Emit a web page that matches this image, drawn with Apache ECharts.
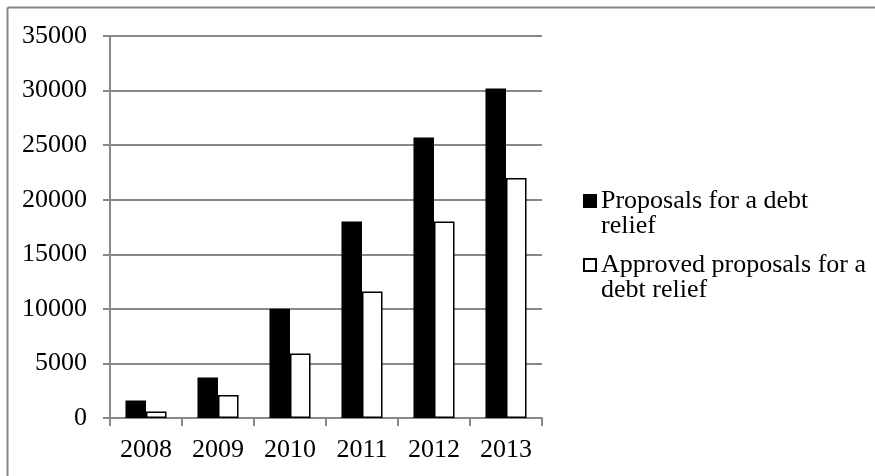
<!DOCTYPE html>
<html lang="en">
<head>
    <meta charset="UTF-8"/>
    <script src="https://cdn.jsdelivr.net/npm/echarts@6/dist/echarts.min.js"></script>
    <title>Debt relief proposals</title>
    <style>
        body { margin: 0; background: #fff; }
    </style>
</head>
<body>
<div id="main" style="width: 875px;height:476px;"></div>
<script type="text/javascript">
    var years = ['2008', '2009', '2010', '2011', '2012', '2013'];
    var proposals = [1600, 3700, 10000, 18000, 25700, 30200];
    var approved = [600, 2100, 5900, 11600, 18000, 22000];
    var seriesNames = ['Proposals for a debt relief', 'Approved proposals for a debt relief'];
    // leading blank line keeps the icon level with the first text line
    var legendLabels = ['\nProposals for a debt\nrelief', '\nApproved proposals for a\ndebt relief'];

    var myChart = echarts.init(document.getElementById('main'));
    var font = 'Liberation Serif';
    var gray = '#888888';

    option = {
        animation: false,
        backgroundColor: '#fff',
        textStyle: { fontFamily: font, color: '#000' },
        grid: { left: 110, right: 333, top: 36, bottom: 58 },
        legend: {
            orient: 'vertical',
            left: 578,
            top: 158,
            itemWidth: 12,
            itemHeight: 12,
            itemGap: -12,
            icon: 'rect',
            data: seriesNames,
            formatter: function (name) {
                return legendLabels[seriesNames.indexOf(name)];
            },
            textStyle: {
                fontFamily: font,
                fontSize: 26,
                color: '#000',
                lineHeight: 25
            }
        },
        xAxis: {
            type: 'category',
            data: years,
            axisLine: { lineStyle: { color: gray, width: 2 } },
            axisTick: { show: true, length: 8, lineStyle: { color: gray, width: 2 } },
            axisLabel: { fontFamily: font, fontSize: 26, color: '#000', margin: 19 }
        },
        yAxis: {
            type: 'value',
            min: 0,
            max: 35000,
            interval: 5000,
            axisLine: { show: true, lineStyle: { color: gray, width: 2 } },
            axisTick: { show: true, length: 7, lineStyle: { color: gray, width: 2 } },
            axisLabel: {
                fontFamily: font, fontSize: 26, color: '#000', margin: 23,
                formatter: function (v) { return String(v); }
            },
            splitLine: { lineStyle: { color: gray, width: 2 } }
        },
        series: [
            {
                name: seriesNames[0],
                type: 'bar',
                data: proposals,
                barGap: '0%',
                barCategoryGap: '43%',
                itemStyle: { color: '#000', borderColor: '#000', borderWidth: 1.5 }
            },
            {
                name: seriesNames[1],
                type: 'bar',
                data: approved,
                itemStyle: { color: '#fff', borderColor: '#000', borderWidth: 1.5 }
            }
        ],
        graphic: [
            { type: 'line', shape: { x1: 7.5, y1: 7.5, x2: 875, y2: 7.5 }, style: { stroke: gray, lineWidth: 2 } },
            { type: 'line', shape: { x1: 7.5, y1: 7.5, x2: 7.5, y2: 476 }, style: { stroke: gray, lineWidth: 2 } }
        ]
    };

    myChart.setOption(option);
</script>
</body>
</html>
